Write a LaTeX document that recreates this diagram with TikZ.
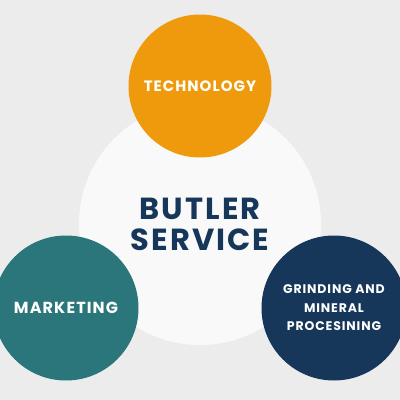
\documentclass[tikz,border=0pt]{standalone}
\usepackage{fontspec}
\setmainfont{Poppins}[LetterSpace=7]
\definecolor{pagegray}{HTML}{ECECEC}
\definecolor{hubwhite}{HTML}{F9F9F9}
\definecolor{techorange}{HTML}{EE9A0C}
\definecolor{marketteal}{HTML}{2A767B}
\definecolor{grindnavy}{HTML}{17375A}

\begin{document}
\begin{tikzpicture}
		[
			x=1pt, y=-1pt,
			% A filled circle with no border.
			bubble/.style={circle, inner sep=0pt, minimum size=#1, align=center},
			% White caps for the small circles.
			capstext/.style 2 args={text=white, font=\bfseries\fontsize{#1}{#2}\selectfont}
		]
			\useasboundingbox[fill=pagegray] (0,0) rectangle (400,400);
			\node
			[
				bubble=242pt,
				fill=hubwhite,
				text=grindnavy,
				font=\bfseries\fontsize{30.5}{31}\selectfont,
			] (hub) at (200,224) {BUTLER\\SERVICE};
			\node
			[
				bubble=143pt,
				fill=techorange,
				capstext={15}{18},
			] (tech) at (200,86) {TECHNOLOGY};
			\node
			[
				bubble=145pt,
				fill=marketteal,
				capstext={16}{18},
			] (market) at (66,308) {MARKETING};
			\node
			[
				bubble=145pt,
				fill=grindnavy,
				capstext={12.5}{18.5},
			] (grind) at (334,308) {GRINDING AND\\MINERAL\\PROCESINING};
		\end{tikzpicture}
\end{document}
